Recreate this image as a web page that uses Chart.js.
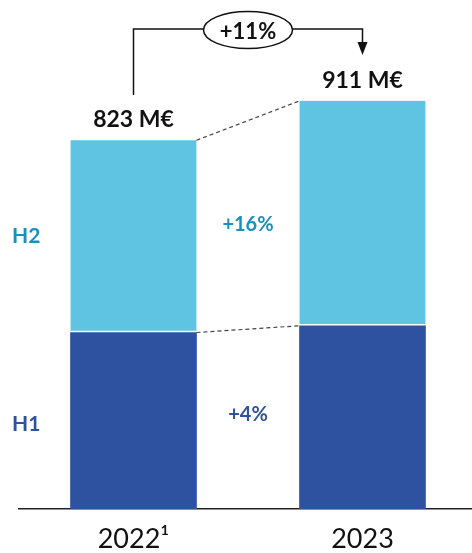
<!DOCTYPE html>
<html>
<head>
<meta charset="utf-8">
<script src="https://cdn.jsdelivr.net/npm/chart.js@4/dist/chart.umd.min.js"></script>
<style>
  html, body { margin: 0; padding: 0; background: #fff; overflow: hidden; }
  #wrap { width: 477px; height: 553px; }
</style>
</head>
<body>
<div id="wrap"><canvas id="chart"></canvas></div>
<script>
// Data (M€)
const years = ['2022¹', '2023'];
const h1 = [394, 409];
const h2 = [429, 502];
const totals = ['823 M€', '911 M€'];
const growthTotal = '+11%';
const growthH2 = '+16%';
const growthH1 = '+4%';

const darkBlue = '#2E52A0';
const lightBlue = '#5EC4E2';
const tealText = '#1A90BC';
const font = 'Lato, "Open Sans", sans-serif';

// Draws totals, growth arrow, dashed connectors and side labels
const annotations = {
  id: 'annotations',
  afterDatasetsDraw(chart) {
    const ctx = chart.ctx;
    const y = chart.scales.y;
    const bars1 = chart.getDatasetMeta(0).data;
    const bars2 = chart.getDatasetMeta(1).data;
    const half = bars1[0].width / 2;
    ctx.save();

    // totals above bars
    ctx.fillStyle = '#111';
    ctx.font = 'bold 23px ' + font;
    ctx.textAlign = 'center';
    ctx.textBaseline = 'middle';
    bars2.forEach((b, i) => ctx.fillText(totals[i], b.x, b.y - 20.5));

    // dashed connectors
    ctx.strokeStyle = '#444';
    ctx.lineWidth = 1.2;
    ctx.setLineDash([4, 3]);
    ctx.beginPath();
    ctx.moveTo(bars2[0].x + half, bars2[0].y);
    ctx.lineTo(bars2[1].x - half, bars2[1].y);
    ctx.moveTo(bars1[0].x + half, bars1[0].y);
    ctx.lineTo(bars1[1].x - half, bars1[1].y);
    ctx.stroke();
    ctx.setLineDash([]);

    // growth arrow
    const x0 = bars1[0].x, x1 = bars1[1].x;
    const cx = (x0 + x1) / 2, cy = 30, rx = 44.5, ry = 18.5, top = 29;
    ctx.strokeStyle = '#111';
    ctx.lineWidth = 1.5;
    ctx.beginPath();
    ctx.moveTo(x0, 95);
    ctx.lineTo(x0, top);
    ctx.lineTo(cx - rx, top);
    ctx.moveTo(cx + rx, top);
    ctx.lineTo(x1, top);
    ctx.lineTo(x1, 43);
    ctx.stroke();
    ctx.fillStyle = '#111';
    ctx.beginPath();
    ctx.moveTo(x1 - 5, 42);
    ctx.lineTo(x1 + 5, 42);
    ctx.lineTo(x1, 55);
    ctx.closePath();
    ctx.fill();
    ctx.beginPath();
    ctx.ellipse(cx, cy, rx, ry, 0, 0, Math.PI * 2);
    ctx.fillStyle = '#fff';
    ctx.fill();
    ctx.stroke();
    ctx.fillStyle = '#111';
    ctx.font = 'bold 22px ' + font;
    ctx.fillText(growthTotal, cx, cy + 2);

    // segment growth labels
    ctx.font = 'bold 20px ' + font;
    ctx.fillStyle = tealText;
    ctx.fillText(growthH2, cx, 225);
    ctx.fillStyle = darkBlue;
    ctx.fillText(growthH1, cx, 415);

    // series labels on the left
    ctx.textAlign = 'left';
    ctx.font = 'bold 21px ' + font;
    ctx.fillStyle = tealText;
    ctx.fillText('H2', 12, (bars2[0].y + bars1[0].y) / 2);
    ctx.fillStyle = darkBlue;
    ctx.fillText('H1', 12, (bars1[0].y + y.getPixelForValue(0)) / 2 + 3);
    ctx.restore();
  }
};

new Chart(document.getElementById('chart'), {
  type: 'bar',
  data: {
    labels: years,
    datasets: [
      { label: 'H1', data: h1, backgroundColor: darkBlue, barThickness: 126 },
      {
        label: 'H2', data: h2, backgroundColor: lightBlue, barThickness: 126,
        borderColor: '#fff', borderWidth: { top: 0, left: 0, right: 0, bottom: 2 }, borderSkipped: false
      }
    ]
  },
  options: {
    responsive: true,
    maintainAspectRatio: false,
    animation: false,
    layout: { padding: { top: 61, left: 19, right: 0, bottom: 0 } },
    plugins: { legend: { display: false }, tooltip: { enabled: false } },
    scales: {
      x: {
        stacked: true,
        grid: { display: false, drawTicks: false },
        border: { display: true, color: '#222', width: 1.5 },
        ticks: { color: '#111', font: { family: font, size: 27 }, padding: 14 },
        afterFit(scale) { scale.height = 44; }
      },
      y: { stacked: true, display: false, min: 0, max: 1000 }
    }
  },
  plugins: [annotations]
});
</script>
</body>
</html>
